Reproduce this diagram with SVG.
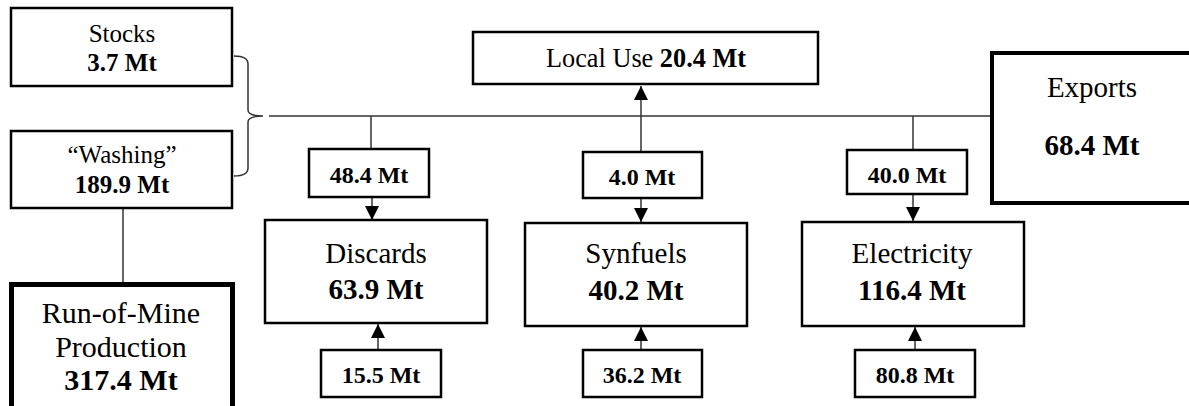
<svg xmlns="http://www.w3.org/2000/svg" width="1189" height="406" viewBox="0 0 1189 406">
<style>
text{font-family:'Liberation Serif','Tinos','Nimbus Roman','DejaVu Serif',serif;fill:#000;text-anchor:middle}
.b{font-weight:bold}
.box{fill:#fff;stroke:#000;stroke-width:2.5}
.thick{fill:#fff;stroke:#000;stroke-width:5}
.med{fill:#fff;stroke:#000;stroke-width:4}
.ln{stroke:#333;stroke-width:1.5;fill:none}
.s24{font-size:25px}
.s23{font-size:24px}
.s28{font-size:29px}
.s30{font-size:30px}
.s26{font-size:26.3px}
</style>
<defs>
<marker id="ah" viewBox="0 0 10 10" refX="10" refY="5" markerUnits="userSpaceOnUse" markerWidth="14" markerHeight="14" orient="auto">
<path d="M0,0 L10,5 L0,10 z" fill="#000"/>
</marker>
</defs>
<g id="connectors">
<path class="ln" d="M234,56 Q248,56 248,64 L248,110 Q248,116 263,116 Q248,116 248,122 L248,168 Q248,176 234,176"/>
<line class="ln" x1="269" y1="116" x2="990" y2="116"/>
<line class="ln" x1="123" y1="209" x2="123" y2="282"/>
<line class="ln" x1="371" y1="116" x2="371" y2="148"/>
<line class="ln" x1="913" y1="116" x2="913" y2="149"/>
<line class="ln" x1="372" y1="198" x2="372" y2="220" marker-end="url(#ah)"/>
<line class="ln" x1="378" y1="349" x2="378" y2="324" marker-end="url(#ah)"/>
<line class="ln" x1="641" y1="151" x2="641" y2="86" marker-end="url(#ah)"/>
<line class="ln" x1="641" y1="199" x2="641" y2="222" marker-end="url(#ah)"/>
<line class="ln" x1="641" y1="349" x2="641" y2="327" marker-end="url(#ah)"/>
<line class="ln" x1="913" y1="195" x2="913" y2="221" marker-end="url(#ah)"/>
<line class="ln" x1="915" y1="349" x2="915" y2="327" marker-end="url(#ah)"/>
</g>
<g id="stocks">
<rect class="box" x="11" y="8" width="221" height="78"/>
<text class="s24" x="122" y="42">Stocks</text>
<text class="s24 b" x="122" y="71">3.7 Mt</text>
</g>
<g id="washing">
<rect class="box" x="11" y="131" width="221" height="77"/>
<text class="s24" x="122" y="163">“Washing”</text>
<text class="s24 b" x="122" y="193">189.9 Mt</text>
</g>
<g id="rom">
<rect class="thick" x="11.5" y="284.5" width="221" height="130"/>
<text class="s30" x="121" y="323">Run-of-Mine</text>
<text class="s30" x="121" y="357">Production</text>
<text class="s30 b" x="121" y="390">317.4 Mt</text>
</g>
<g id="localuse">
<rect class="box" x="473" y="32" width="345" height="52"/>
<text class="s26" x="646" y="67">Local Use <tspan class="b">20.4 Mt</tspan></text>
</g>
<g id="exports">
<rect class="med" x="992" y="53" width="220" height="150"/>
<text class="s28" x="1092" y="97">Exports</text>
<text class="s28 b" x="1092" y="155">68.4 Mt</text>
</g>
<g id="f48">
<rect class="box" x="309" y="149" width="120" height="48"/>
<text class="s23 b" x="369" y="183">48.4 Mt</text>
</g>
<g id="f40">
<rect class="box" x="583" y="152" width="119" height="46"/>
<text class="s23 b" x="642" y="185">4.0 Mt</text>
</g>
<g id="f400">
<rect class="box" x="847" y="150" width="120" height="44"/>
<text class="s23 b" x="907" y="183">40.0 Mt</text>
</g>
<g id="discards">
<rect class="box" x="265" y="220" width="222" height="103"/>
<text class="s28" x="376" y="263">Discards</text>
<text class="s28 b" x="376" y="299">63.9 Mt</text>
</g>
<g id="synfuels">
<rect class="box" x="525" y="223" width="222" height="103"/>
<text class="s28" x="636" y="263">Synfuels</text>
<text class="s28 b" x="636" y="300">40.2 Mt</text>
</g>
<g id="electricity">
<rect class="box" x="802" y="222" width="222" height="104"/>
<text class="s28" x="912" y="263">Electricity</text>
<text class="s28 b" x="912" y="300">116.4 Mt</text>
</g>
<g id="f155">
<rect class="box" x="321" y="350" width="120" height="47"/>
<text class="s23 b" x="381" y="383">15.5 Mt</text>
</g>
<g id="f362">
<rect class="box" x="583" y="350" width="119" height="47"/>
<text class="s23 b" x="642" y="383">36.2 Mt</text>
</g>
<g id="f808">
<rect class="box" x="855" y="350" width="120" height="47"/>
<text class="s23 b" x="915" y="383">80.8 Mt</text>
</g>
</svg>
